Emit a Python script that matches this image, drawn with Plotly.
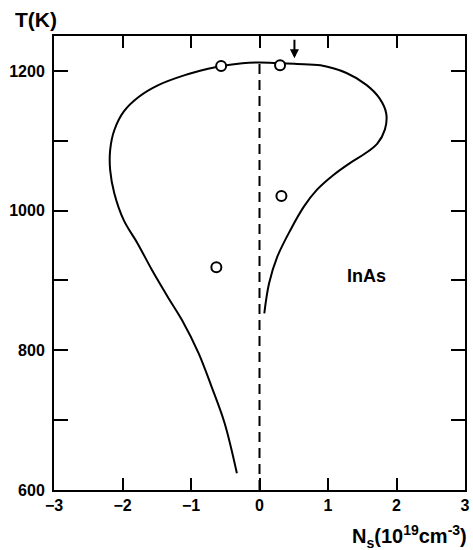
import plotly.graph_objects as go

# Curve (N_s in 1e19 cm^-3, T in K), traced from bottom-left end around to inner right end
curve_ns = [-0.33, -0.51, -0.70, -0.89, -1.13, -1.33, -1.57, -1.78, -1.98, -2.12, -2.18,
            -2.18, -2.12, -1.98, -1.76, -1.47, -1.09, -0.75, -0.56, -0.25, 0.00, 0.30,
            0.55, 0.89, 1.27, 1.56, 1.75, 1.85, 1.83, 1.72, 1.53, 1.32, 1.08, 0.84,
            0.65, 0.45, 0.26, 0.14, 0.07]
curve_t = [624, 696, 748, 796, 843, 875, 915, 953, 986, 1025, 1058,
           1087, 1115, 1142, 1163, 1180, 1194, 1203, 1207, 1211, 1212, 1211,
           1210, 1208, 1197, 1180, 1161, 1139, 1116, 1096, 1081, 1068, 1051, 1030,
           1006, 972, 934, 896, 853]

# Experimental points (open circles)
pts_ns = [-0.56, 0.30, 0.32, -0.63]
pts_t = [1207, 1208, 1021, 919]

# Dashed reference line at N_s = 0
dash_ns = [0, 0]
dash_t = [600, 1210]

# Arrow marker position (tip)
arrow_ns = 0.51
arrow_t = 1218

x_ticks = [-3, -2, -1, 0, 1, 2, 3]
x_ticktext = ["\u22123", "\u22122", "\u22121", "0", "1", "2", "3"]
y_ticks = [600, 800, 1000, 1200]
y_ticktext = ["600", "800", "1000", "1200"]

tick_font = dict(family="Liberation Sans, Arial", size=16, color="black", weight="bold")
label_font = dict(family="Liberation Sans, Arial", color="black", weight="bold")

fig = go.Figure()
fig.add_trace(go.Scatter(x=dash_ns, y=dash_t, mode="lines",
                         line=dict(color="black", width=2, dash="10px,6px"),
                         hoverinfo="skip", showlegend=False))
fig.add_trace(go.Scatter(x=curve_ns, y=curve_t, mode="lines",
                         line=dict(color="black", width=2, shape="spline", smoothing=1.0),
                         showlegend=False))
fig.add_trace(go.Scatter(x=pts_ns, y=pts_t, mode="markers",
                         marker=dict(symbol="circle", size=10, color="white",
                                     line=dict(color="black", width=2)),
                         showlegend=False))

fig.add_annotation(x=arrow_ns, y=arrow_t, xref="x", yref="y", ax=0, ay=-20,
                   showarrow=True, arrowhead=2, arrowsize=0.9, arrowwidth=2,
                   arrowcolor="black", text="", standoff=0)
fig.add_annotation(x=1.56, y=906, xref="x", yref="y", text="InAs", showarrow=False,
                   font=dict(size=18, **label_font))
fig.add_annotation(x=-0.043, y=1.037, xref="paper", yref="paper", text="T(K)",
                   showarrow=False, xanchor="center", yanchor="middle",
                   font=dict(size=21, **label_font))
fig.add_annotation(x=1.01, y=-0.102, xref="paper", yref="paper",
                   text="N<sub>s</sub>(10<sup>19</sup>cm<sup>-3</sup>)",
                   showarrow=False, xanchor="right", yanchor="middle",
                   font=dict(size=20, **label_font))

fig.update_xaxes(range=[-3, 3], tickvals=x_ticks, ticktext=x_ticktext,
                 ticks="inside", ticklen=12, tickwidth=2, tickcolor="black",
                 showline=True, linewidth=2, linecolor="black", mirror="ticks",
                 showgrid=False, zeroline=False, tickfont=tick_font)
fig.update_yaxes(range=[600, 1250], tickvals=y_ticks, ticktext=y_ticktext,
                 ticks="inside", ticklen=14, tickwidth=2, tickcolor="black",
                 minor=dict(dtick=100, tick0=600, ticks="inside", ticklen=14,
                            tickwidth=2, tickcolor="black", showgrid=False),
                 showline=True, linewidth=2, linecolor="black", mirror="ticks",
                 showgrid=False, zeroline=False, tickfont=tick_font,
                 ticklabelstandoff=4)

fig.update_layout(width=473, height=550,
                  margin=dict(l=54, r=3, t=36, b=60),
                  plot_bgcolor="white", paper_bgcolor="white")

fig.write_html("out.html")
